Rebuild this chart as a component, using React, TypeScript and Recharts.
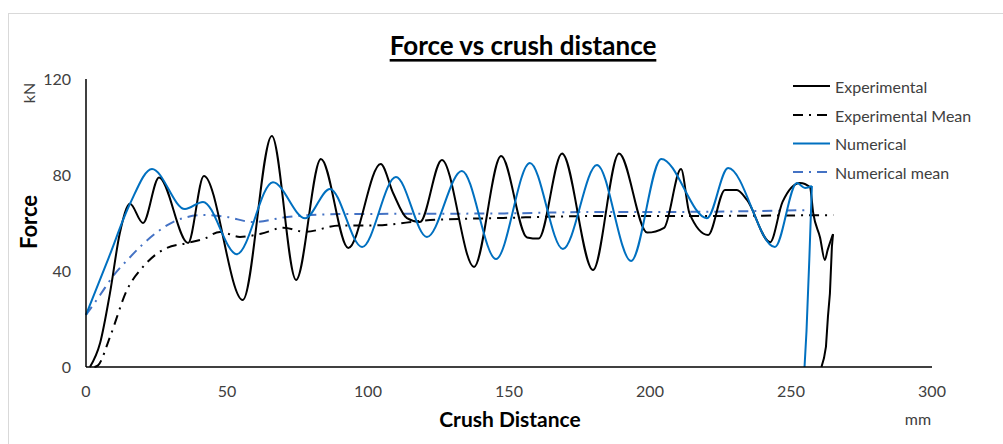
import React from 'react';
import { LineChart, Line, XAxis, YAxis } from 'recharts';

const seriesNames = ['Experimental', 'Experimental Mean', 'Numerical', 'Numerical mean'];
const xTicks = [0, 50, 100, 150, 200, 250, 300];
const yTicks = [0, 40, 80, 120];

const expX = [1.4, 5, 8.5, 12, 15.6, 20.2, 25.9, 36.2, 41.8, 55.6, 65.9, 74.5, 83.3, 93, 104.5, 108.9, 113.8, 118.4, 126.2, 137.6, 147.2, 156.4, 160.5, 168.8, 179.8, 189, 199, 205, 211, 214, 220.6, 226.6, 230.8, 234.4, 242.6, 247, 253.2, 256.7, 257.9, 260.3, 262, 263, 264.9];
const expY = [0, 10, 30.8, 55.8, 68, 60, 79, 51.7, 79.6, 27.9, 96.3, 36.3, 86.7, 49.6, 84.6, 72.5, 62, 60.4, 86.3, 41.7, 87.9, 54, 53.5, 89, 40.4, 89, 56, 58, 82.5, 64, 55, 73.8, 73.8, 69.6, 52, 68.8, 76.7, 75, 64, 54, 44.6, 48.8, 55.4];
const expTailX = [264.9, 264.5, 263.8, 263.1, 262.4, 261.7, 260.8];
const expTailY = [55.4, 50, 30.6, 21, 8.5, 3.7, 0];

const expMeanX = [3, 4.3, 8.5, 14.5, 20.2, 28.6, 36.2, 42, 47.5, 54.6, 62, 70, 77.7, 90, 101.8, 122, 147.9, 181, 204.6, 265];
const expMeanY = [0, 0.7, 12.5, 32, 41.7, 49.6, 51.7, 53.5, 56.3, 54.2, 55.5, 58, 56.3, 59, 59, 61.2, 62.1, 62.9, 62.9, 63.3];

const numX = [0, 8, 15.6, 23.4, 35.1, 41.5, 53.5, 66.3, 77.7, 86.5, 97.9, 109.9, 120.9, 133.3, 145.4, 157.4, 169.1, 181.2, 193.3, 204, 220.2, 227.7, 244.3, 252.1, 255, 257.4];
const numY = [21.7, 45.4, 68, 82.5, 65.8, 68.8, 47, 77, 62, 74.2, 50, 79.2, 54.2, 81.7, 45, 85, 49.2, 84.2, 44.2, 86.7, 62, 82.9, 50, 76.7, 74.6, 75.4];
const numTailX = [257.4, 256.5, 255.5, 254.8];
const numTailY = [75.4, 45, 15, 0];

const numMeanX = [0, 5, 10, 15, 20, 25, 31, 41.5, 50, 59.2, 71.3, 90, 148, 181, 204.6, 257];
const numMeanY = [21.7, 30, 38.5, 45, 51, 56, 60.5, 63.3, 62.5, 60.4, 62.5, 63.7, 64, 64.6, 64.6, 65.4];

const zip = (xs: number[], ys: number[]) => xs.map((x, i) => ({ x, y: ys[i] }));

const expData = zip(expX, expY);
const expTail = zip(expTailX, expTailY);
const expMean = zip(expMeanX, expMeanY);
const numData = zip(numX, numY);
const numTail = zip(numTailX, numTailY);
const numMean = zip(numMeanX, numMeanY);

const BLACK = '#000000';
const BLUE = '#0070C0';
const LBLUE = '#4472C4';
const DASH = '10 6 2 6';
const FONT = 'Lato, Carlito, Calibri, sans-serif';

const legendStyles = [
  { color: BLACK, dash: undefined as string | undefined },
  { color: BLACK, dash: DASH },
  { color: BLUE, dash: undefined },
  { color: LBLUE, dash: DASH },
];
const legendRows = [86, 115, 143.5, 172];

export default function App() {
  return (
    <div style={{ position: 'absolute', left: 0, top: 0, width: 1003, height: 444, background: '#fff', fontFamily: FONT }}>
      <div style={{ position: 'absolute', left: 8, top: 13, width: 1003, height: 444, border: '1px solid #d9d9d9', boxSizing: 'border-box' }} />
      <div style={{ position: 'absolute', left: 0, top: 0 }}>
        <LineChart width={1003} height={444} margin={{ top: 79, right: 71, bottom: 47, left: 20 }}>
          <XAxis
            type="number"
            dataKey="x"
            domain={[0, 300]}
            ticks={xTicks}
            height={30}
            tickLine={false}
            tickSize={0}
            tickMargin={19}
            axisLine={{ stroke: '#000', strokeWidth: 1.5 }}
            tick={{ fill: '#404040', fontSize: 16, fontFamily: FONT }}
            allowDuplicatedCategory={false}
          />
          <YAxis
            type="number"
            dataKey="y"
            domain={[0, 120]}
            ticks={yTicks}
            width={66}
            tickLine={false}
            tickSize={0}
            tickMargin={15}
            axisLine={{ stroke: '#000', strokeWidth: 1.5 }}
            tick={{ fill: '#404040', fontSize: 16, fontFamily: FONT }}
          />
          <Line data={expMean} dataKey="y" type="monotone" stroke={BLACK} strokeWidth={2} strokeDasharray={DASH} dot={false} isAnimationActive={false} />
          <Line data={numMean} dataKey="y" type="monotone" stroke={LBLUE} strokeWidth={2} strokeDasharray={DASH} dot={false} isAnimationActive={false} />
          <Line data={expData} dataKey="y" type="monotone" stroke={BLACK} strokeWidth={2} dot={false} isAnimationActive={false} />
          <Line data={expTail} dataKey="y" type="linear" stroke={BLACK} strokeWidth={2} dot={false} isAnimationActive={false} />
          <Line data={numData} dataKey="y" type="monotone" stroke={BLUE} strokeWidth={2} dot={false} isAnimationActive={false} />
          <Line data={numTail} dataKey="y" type="linear" stroke={BLUE} strokeWidth={2} dot={false} isAnimationActive={false} />
        </LineChart>
      </div>
      <svg width={1003} height={444} style={{ position: 'absolute', left: 0, top: 0, pointerEvents: 'none' }}>
        <text x={523} y={45} textAnchor="middle" dominantBaseline="central" fontFamily={FONT} fontWeight="bold" fontSize={26} fill="#000" style={{ textDecoration: 'underline' }}>
          Force vs crush distance
        </text>
        <text x={510} y={418} textAnchor="middle" dominantBaseline="central" fontFamily={FONT} fontWeight="bold" fontSize={21} fill="#000">
          Crush Distance
        </text>
        <text x={918} y={418} textAnchor="middle" dominantBaseline="central" fontFamily={FONT} fontSize={16} fill="#404040">
          mm
        </text>
        <text transform="translate(28,222) rotate(-90)" textAnchor="middle" dominantBaseline="central" fontFamily={FONT} fontWeight="bold" fontSize={22} fill="#000">
          Force
        </text>
        <text transform="translate(28,93) rotate(-90)" textAnchor="middle" dominantBaseline="central" fontFamily={FONT} fontSize={16} fill="#404040">
          kN
        </text>
        {seriesNames.map((name, i) => (
          <g key={name}>
            <line x1={793} x2={830} y1={legendRows[i]} y2={legendRows[i]} stroke={legendStyles[i].color} strokeWidth={2} strokeDasharray={legendStyles[i].dash} />
            <text x={835} y={legendRows[i]} dominantBaseline="central" fontFamily={FONT} fontSize={16} fill="#404040">
              {name}
            </text>
          </g>
        ))}
      </svg>
    </div>
  );
}
